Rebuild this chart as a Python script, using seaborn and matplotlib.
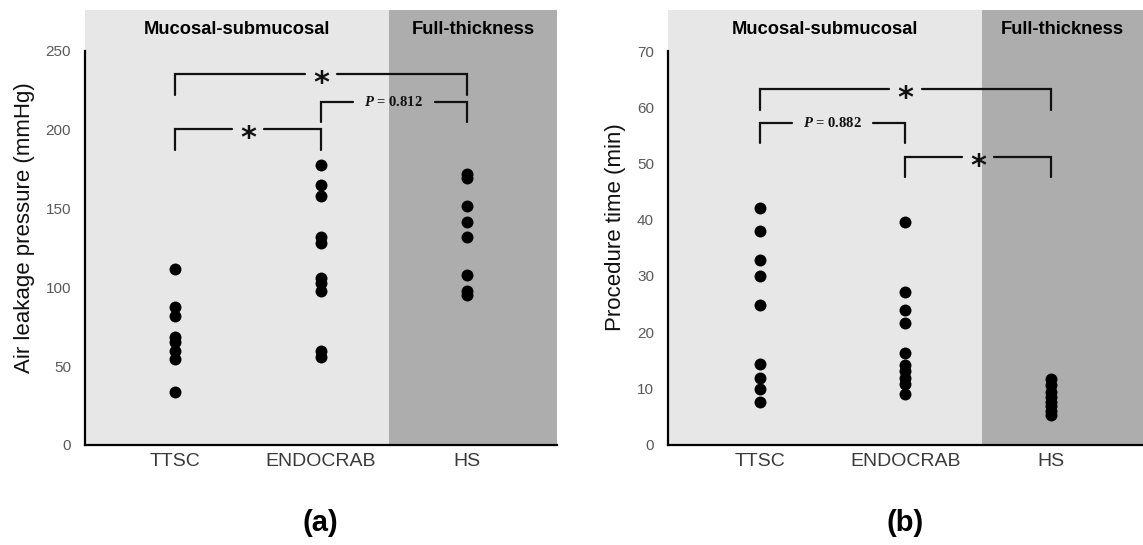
import pandas as pd
import matplotlib.pyplot as plt
import seaborn as sns

# groups and values
groups = ["TTSC", "ENDOCRAB", "HS"]

alp_ttsc = [111.7, 87.8, 82.0, 68.7, 65.5, 59.6, 54.6, 33.6]
alp_endo = [177.9, 165.0, 158.0, 131.8, 128.0, 105.8, 102.6, 97.9, 59.8, 55.6]
alp_hs = [172.0, 169.2, 151.6, 141.7, 131.8, 107.7, 97.7, 95.2]

pt_ttsc = [42.0, 38.0, 32.9, 29.9, 24.8, 14.3, 11.8, 9.9, 7.6]
pt_endo = [39.6, 27.1, 24.0, 21.7, 16.3, 14.1, 13.0, 11.8, 10.7, 9.0]
pt_hs = [11.6, 10.5, 9.3, 8.4, 7.6, 6.8, 6.0, 5.3]

# brackets: (group a, group b, top, leg end, label)
alp_brackets = [(0, 2, 235.2, 222.1, "*"),
                (1, 2, 217.8, 205.1, "0.812"),
                (0, 1, 200.3, 187.2, "*")]
pt_brackets = [(0, 2, 63.2, 59.6, "*"),
               (0, 1, 57.2, 53.6, "0.882"),
               (1, 2, 51.2, 47.6, "*")]

region_labels = ["Mucosal-submucosal", "Full-thickness"]

plt.rcParams["mathtext.fontset"] = "custom"
plt.rcParams["mathtext.it"] = "Liberation Serif:italic:bold"
plt.rcParams["mathtext.rm"] = "Liberation Serif:bold"

sns.set_style("white")
plt.rcParams["font.family"] = ["Liberation Sans", "DejaVu Sans"]

LIGHT = "#e7e7e7"
DARK = "#adadad"


def long_df(a, b, c):
    return pd.DataFrame({
        "group": [groups[0]] * len(a) + [groups[1]] * len(b) + [groups[2]] * len(c),
        "value": a + b + c,
    })


def draw_panel(ax, df, ylabel, ytop, yticks, xlim, ylim_top, dark_start, brackets):
    ax.set_facecolor(LIGHT)
    sns.stripplot(data=df, x="group", y="value", order=groups, jitter=False,
                  color="black", size=8.6, linewidth=0, ax=ax, zorder=3)
    ax.axvspan(dark_start, xlim[1], color=DARK, lw=0, zorder=0)
    ax.set_xlim(*xlim)
    ax.set_ylim(0, ylim_top)
    ax.set_yticks(yticks)
    ax.set_xlabel("")
    ax.set_ylabel(ylabel, fontsize=16, color="#111111", labelpad=8)
    for s in ["top", "right"]:
        ax.spines[s].set_visible(False)
    ax.spines["left"].set_bounds(0, ytop)
    for s in ["left", "bottom"]:
        ax.spines[s].set_color("black")
        ax.spines[s].set_linewidth(1.6)
    ax.tick_params(axis="y", length=0, pad=10, labelsize=11, labelcolor="#595959")
    ax.tick_params(axis="x", length=0, pad=6, labelsize=14, labelcolor="#3a3a3a")

    # region headings
    tr = ax.get_xaxis_transform()
    ax.text((xlim[0] + dark_start) / 2, 0.956, region_labels[0], transform=tr,
            ha="center", va="center", fontsize=13.2, fontweight="bold", color="black")
    ax.text((dark_start + xlim[1]) / 2, 0.956, region_labels[1], transform=tr,
            ha="center", va="center", fontsize=13.2, fontweight="bold", color="black")

    # significance brackets
    for a, b, top, low, lab in brackets:
        mid = (a + b) / 2
        gap = 0.11 if lab == "*" else 0.28
        kw = dict(color="#111111", lw=1.6, solid_joinstyle="miter", zorder=2)
        ax.plot([a, a, mid - gap], [low, top, top], **kw)
        ax.plot([mid + gap, b, b], [top, top, low], **kw)
        if lab == "*":
            ax.annotate("*", (mid, top), xytext=(0, -13), textcoords="offset points",
                        ha="center", va="baseline", fontsize=22, fontweight="bold",
                        family="DejaVu Sans", color="#111111")
        else:
            ax.text(mid, top, r"$\mathit{P}$ = " + lab, ha="center", va="center",
                    fontsize=10.5, fontweight="bold", family="Liberation Serif",
                    color="#111111")


fig = plt.figure(figsize=(11.43, 5.45), dpi=100)
ax1 = fig.add_axes([0.0744, 0.1835, 0.4129, 0.7982])
ax2 = fig.add_axes([0.5844, 0.1844, 0.4156, 0.7972])

draw_panel(ax1, long_df(alp_ttsc, alp_endo, alp_hs), "Air leakage pressure (mmHg)",
           250, [0, 50, 100, 150, 200, 250], (-0.62, 2.62), 276.0, 1.47, alp_brackets)
draw_panel(ax2, long_df(pt_ttsc, pt_endo, pt_hs), "Procedure time (min)",
           70, [0, 10, 20, 30, 40, 50, 60, 70], (-0.63, 2.63), 77.3, 1.525, pt_brackets)

fig.text(0.2804, 0.04, "(a)", ha="center", va="center", fontsize=21,
         fontweight="bold", color="black")
fig.text(0.7918, 0.04, "(b)", ha="center", va="center", fontsize=21,
         fontweight="bold", color="black")

fig.savefig("out.png", dpi=100)
